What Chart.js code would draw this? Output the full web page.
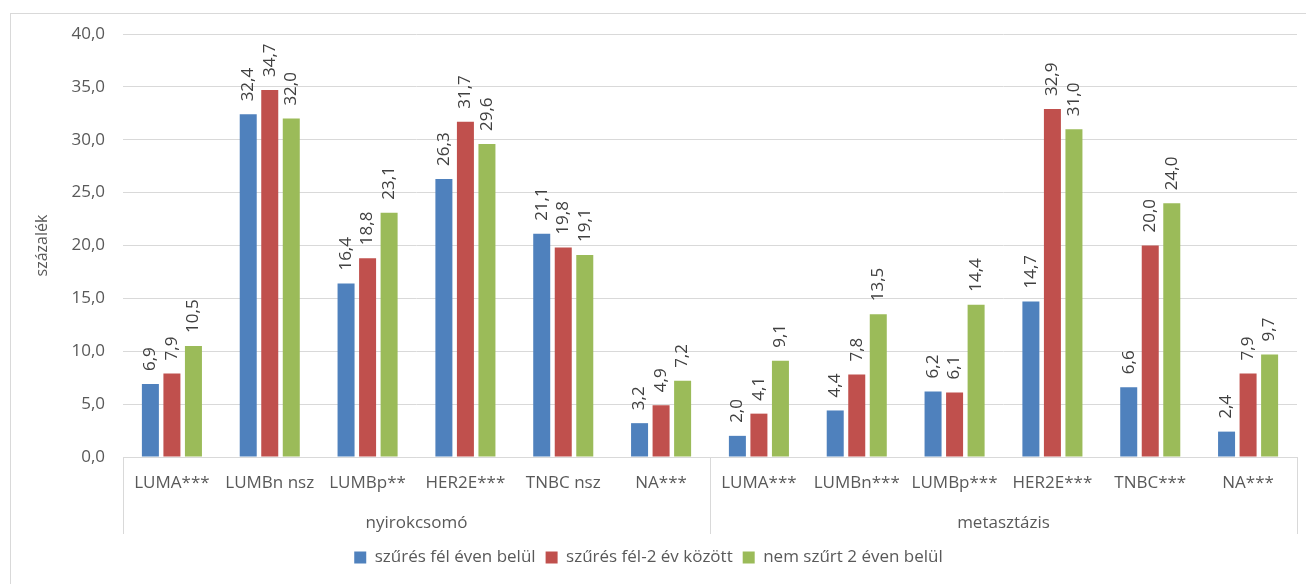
<!DOCTYPE html>
<html lang="hu">
<head>
    <meta charset="UTF-8">
    <title>Szűrés és nyirokcsomó / metasztázis</title>
    <script src="https://cdn.jsdelivr.net/npm/chart.js"></script>
    <style>
        html, body {
            margin: 0;
            padding: 0;
            background: #ffffff;
            overflow: hidden;
        }
        .frame {
            position: absolute;
            left: 10px;
            top: 13px;
            width: 1320px;
            height: 600px;
            border: 1px solid #d9d9d9;
        }
        .chart-box {
            position: absolute;
            left: 0;
            top: 0;
            width: 1306px;
            height: 584px;
        }
    </style>
</head>
<body>
    <div class="frame"></div>
    <div class="chart-box">
        <canvas id="chart"></canvas>
    </div>

    <script>
        // category labels (two groups of six)
        const categories = [
            'LUMA***', 'LUMBn nsz', 'LUMBp**', 'HER2E***', 'TNBC nsz', 'NA***',
            'LUMA***', 'LUMBn***', 'LUMBp***', 'HER2E***', 'TNBC***', 'NA***'
        ];
        const groups = ['nyirokcsomó', 'metasztázis'];
        const seriesNames = ['szűrés fél éven belül', 'szűrés fél-2 év között', 'nem szűrt 2 éven belül'];

        // values in percent
        const withinHalfYear = [6.9, 32.4, 16.4, 26.3, 21.1, 3.2, 2.0, 4.4, 6.2, 14.7, 6.6, 2.4];
        const halfToTwoYears = [7.9, 34.7, 18.8, 31.7, 19.8, 4.9, 4.1, 7.8, 6.1, 32.9, 20.0, 7.9];
        const notScreened = [10.5, 32.0, 23.1, 29.6, 19.1, 7.2, 9.1, 13.5, 14.4, 31.0, 24.0, 9.7];

        const yMin = 0;
        const yMax = 40;
        const yStep = 5;

        const FONT = '"Open Sans", Lato, sans-serif';
        const LINE = '#d9d9d9';

        const fmt = v => v.toFixed(1).replace('.', ',');

        // rotated value labels above each bar
        const valueLabels = {
            id: 'valueLabels',
            afterDatasetsDraw(chart) {
                const ctx = chart.ctx;
                ctx.save();
                ctx.fillStyle = '#404040';
                ctx.font = '17px ' + FONT;
                ctx.textAlign = 'left';
                ctx.textBaseline = 'middle';
                chart.data.datasets.forEach((ds, i) => {
                    chart.getDatasetMeta(i).data.forEach((bar, j) => {
                        ctx.save();
                        ctx.translate(bar.x, bar.y - 13);
                        ctx.rotate(-Math.PI / 2);
                        ctx.fillText(fmt(ds.data[j]), 0, 0);
                        ctx.restore();
                    });
                });
                ctx.restore();
            }
        };

        // second level of the category axis: separators and group names
        const groupAxis = {
            id: 'groupAxis',
            afterDraw(chart) {
                const x = chart.scales.x;
                const ctx = chart.ctx;
                const top = chart.chartArea.bottom;
                const bottom = top + 77;
                const per = categories.length / groups.length;
                ctx.save();
                ctx.strokeStyle = LINE;
                ctx.lineWidth = 1;
                for (let g = 0; g <= groups.length; g++) {
                    const px = Math.round(x.left + (x.right - x.left) * g / groups.length) + 0.5;
                    ctx.beginPath();
                    ctx.moveTo(px, top);
                    ctx.lineTo(px, bottom);
                    ctx.stroke();
                }
                ctx.fillStyle = '#595959';
                ctx.font = '17px ' + FONT;
                ctx.textAlign = 'center';
                ctx.textBaseline = 'middle';
                groups.forEach((name, g) => {
                    const a = x.getPixelForTick(g * per);
                    const b = x.getPixelForTick(g * per + per - 1);
                    ctx.fillText(name, (a + b) / 2, top + 66);
                });
                ctx.restore();
            }
        };

        new Chart(document.getElementById('chart'), {
            type: 'bar',
            data: {
                labels: categories,
                datasets: [
                    { label: seriesNames[0], data: withinHalfYear, backgroundColor: '#4f81bd' },
                    { label: seriesNames[1], data: halfToTwoYears, backgroundColor: '#c0504d' },
                    { label: seriesNames[2], data: notScreened, backgroundColor: '#9bbb59' }
                ]
            },
            options: {
                responsive: true,
                maintainAspectRatio: false,
                animation: false,
                datasets: {
                    bar: { categoryPercentage: 0.66, barPercentage: 0.79 }
                },
                layout: {
                    padding: { left: 0, right: 9, top: 34, bottom: 8 }
                },
                plugins: {
                    tooltip: { enabled: false },
                    legend: {
                        position: 'bottom',
                        labels: {
                            boxWidth: 12,
                            boxHeight: 12,
                            padding: 10,
                            color: '#595959',
                            font: { family: FONT, size: 17 }
                        }
                    }
                },
                scales: {
                    x: {
                        grid: { display: false, drawTicks: false },
                        border: { display: true, color: LINE },
                        ticks: {
                            color: '#595959',
                            padding: 16,
                            maxRotation: 0,
                            autoSkip: false,
                            font: { family: FONT, size: 17 }
                        },
                        afterFit(scale) { scale.height = 82; }
                    },
                    y: {
                        min: yMin,
                        max: yMax,
                        ticks: {
                            stepSize: yStep,
                            color: '#595959',
                            padding: 18,
                            font: { family: FONT, size: 17 },
                            callback: v => fmt(v)
                        },
                        grid: { color: LINE, drawTicks: false },
                        border: { display: false },
                        title: {
                            display: true,
                            text: 'százalék',
                            color: '#595959',
                            font: { family: FONT, size: 16 },
                            padding: { top: 33, bottom: 0 }
                        },
                        afterFit(scale) { scale.width = 123; }
                    }
                }
            },
            plugins: [valueLabels, groupAxis]
        });
    </script>
</body>
</html>
